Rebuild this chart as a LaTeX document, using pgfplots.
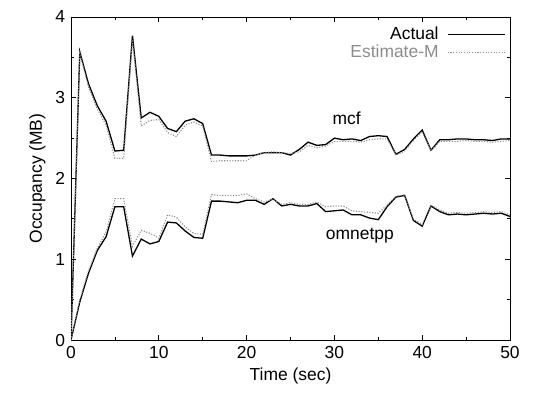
\documentclass[border=0pt]{standalone}
\usepackage{fontspec}
\setmainfont{Liberation Sans}
\usepackage{pgfplots}
\pgfplotsset{compat=1.18}
\usetikzlibrary{calc}
\definecolor{estgray}{gray}{0.55}

\pgfplotstableread{
x mcfA mcfE omA omE
0 0 0 0 0
1 3.57 3.55 0.47 0.50
2 3.17 3.13 0.83 0.86
3 2.90 2.86 1.11 1.14
4 2.71 2.66 1.28 1.34
5 2.34 2.25 1.65 1.75
6 2.35 2.25 1.65 1.75
7 3.77 3.72 1.04 1.16
8 2.75 2.65 1.25 1.36
9 2.82 2.72 1.19 1.32
10 2.77 2.73 1.22 1.26
11 2.62 2.57 1.46 1.55
12 2.58 2.52 1.45 1.52
13 2.71 2.66 1.35 1.40
14 2.74 2.70 1.27 1.32
15 2.68 2.65 1.26 1.31
16 2.29 2.21 1.72 1.80
17 2.29 2.22 1.72 1.79
18 2.28 2.22 1.71 1.79
19 2.28 2.22 1.70 1.79
20 2.28 2.22 1.73 1.81
21 2.29 2.29 1.73 1.75
22 2.32 2.32 1.68 1.71
23 2.32 2.33 1.75 1.74
24 2.32 2.32 1.66 1.68
25 2.29 2.31 1.68 1.70
26 2.36 2.33 1.66 1.68
27 2.45 2.41 1.66 1.68
28 2.41 2.38 1.69 1.71
29 2.42 2.40 1.59 1.65
30 2.50 2.46 1.60 1.66
31 2.48 2.46 1.61 1.66
32 2.49 2.46 1.55 1.60
33 2.47 2.45 1.55 1.59
34 2.52 2.48 1.51 1.58
35 2.53 2.49 1.49 1.57
36 2.52 2.49 1.65 1.67
37 2.30 2.29 1.77 1.78
38 2.36 2.34 1.79 1.80
39 2.49 2.47 1.48 1.50
40 2.60 2.58 1.41 1.43
41 2.35 2.34 1.66 1.67
42 2.48 2.46 1.59 1.61
43 2.48 2.46 1.55 1.57
44 2.49 2.46 1.56 1.58
45 2.49 2.47 1.55 1.57
46 2.48 2.46 1.56 1.58
47 2.48 2.46 1.57 1.59
48 2.47 2.45 1.56 1.58
49 2.49 2.46 1.57 1.59
50 2.49 2.47 1.53 1.55
}\datatable

\begin{document}
\fontsize{17.5}{20}\selectfont
\begin{tikzpicture}
\begin{axis}[
  name=ax,
  scale only axis,
  width=439bp, height=323bp,
  xmin=0, xmax=50, ymin=0, ymax=4,
  xtick={0,10,...,50}, ytick={0,1,2,3,4},
  minor xtick={5,15,...,45}, minor ytick={0.5,1.5,2.5,3.5},
  tick align=inside,
  major tick length=5bp, minor tick length=3bp,
  tick style={black, line width=0.8bp},
  axis line style={line width=1bp},
  tick label style={font=\fontsize{17.5}{20}\selectfont},
  label style={font=\fontsize{17.5}{20}\selectfont},
  /pgf/number format/assume math mode=true,
  xlabel={Time (sec)},
  ylabel={Occupancy (MB)},
  xlabel style={yshift=2bp},
  ylabel style={yshift=-2bp},
  legend style={draw=none, fill=none, at={(rel axis cs:0.99,0.975)}, anchor=north east,
    legend cell align=right, font=\fontsize{17.5}{20}\selectfont,
    row sep=0bp, inner sep=0bp, nodes={inner sep=1.5bp}},
  legend plot pos=right,
  legend image code/.code={\path (0bp,0bp); \draw[#1] (7bp,0bp) -- (64bp,0bp);},
]
\addplot[black, line width=1.3bp] table[x=x, y=mcfA] {\datatable};
\addlegendentry{Actual}
\addplot[estgray, line width=1.1bp, dash pattern=on 1.1bp off 1.6bp] table[x=x, y=mcfE] {\datatable};
\addlegendentry{\textcolor{estgray}{Estimate-M}}
\addplot[black, line width=1.3bp, forget plot] table[x=x, y=omA] {\datatable};
\addplot[estgray, line width=1.1bp, dash pattern=on 1.1bp off 1.6bp, forget plot] table[x=x, y=omE] {\datatable};
\node at (axis cs:31.4,2.75) {mcf};
\node at (axis cs:32.9,1.29) {omnetpp};
\end{axis}
\path ($(ax.south west)+(-71bp,-58bp)$) rectangle ($(ax.north east)+(46bp,17bp)$);
\end{tikzpicture}
\end{document}
